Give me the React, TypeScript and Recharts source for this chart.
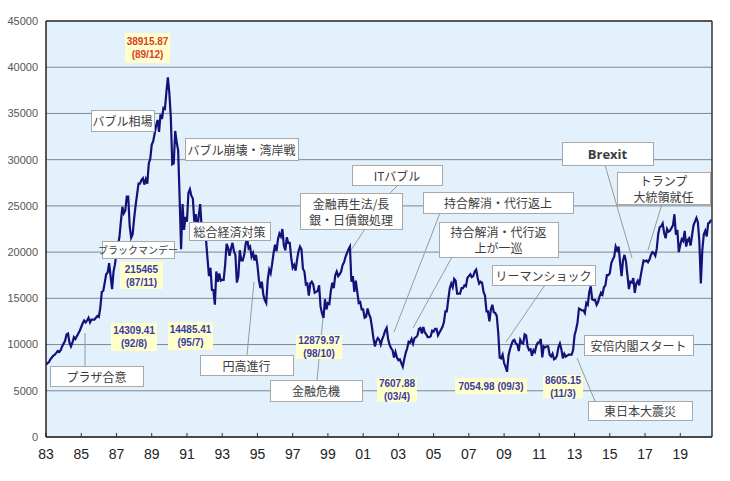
import React from 'react';
import { LineChart, Line, XAxis, YAxis, CartesianGrid, ReferenceLine } from 'recharts';

// monthly levels of the index (Jan..Dec per row)
const START_YEAR = 1983;
const idx1983_1989 = [
  7800, 8000, 8100, 8400, 8600, 8800, 8900, 9100, 9300, 9200, 9400, 9800,
  10100, 10400, 11100, 11200, 10200, 9800, 10200, 10800, 10600, 10900, 11200, 11500,
  11900, 12300, 12600, 12400, 12600, 12900, 12400, 12700, 12700, 12700, 12900, 13100,
  13000, 14000, 15700, 15800, 16700, 17600, 17800, 18800, 17400, 16000, 17900, 18700,
  20000, 20800, 21600, 23300, 24900, 24200, 24500, 26000, 26000, 22800, 21546, 21900,
  23600, 25000, 26200, 27400, 27400, 27800, 28000, 27300, 27900, 27400, 29600, 30100,
  31600, 32000, 32800, 33700, 34300, 33000, 34900, 34400, 35600, 35500, 37300, 38916,
];
const idx1990_1996 = [
  37200, 34600, 29500, 29600, 33100, 31900, 31000, 25900, 20300, 25200, 22400, 23800,
  23300, 26400, 26800, 26100, 25800, 23300, 24100, 22300, 23900, 25200, 22700, 22900,
  22000, 21300, 19300, 17400, 18300, 15900, 15900, 14309, 17900, 16800, 17700, 16900,
  17000, 17000, 18600, 20900, 20500, 19600, 20400, 21000, 20100, 19700, 16700, 17400,
  20200, 19100, 19100, 19700, 20900, 21500, 20400, 20600, 19500, 19900, 19100, 19700,
  18600, 17000, 16100, 16800, 15400, 14800, 14485, 17000, 18100, 17700, 18700, 19900,
  20800, 20100, 21400, 22000, 21700, 22500, 20700, 20200, 21600, 21000, 21000, 19400,
];
const idx1997_2003 = [
  18300, 18600, 18000, 19200, 20100, 20600, 20300, 18200, 17900, 16500, 16600, 15300,
  16600, 16800, 16500, 15600, 15700, 15800, 16400, 14100, 13400, 12880, 14900, 13800,
  14500, 14400, 15800, 16700, 16100, 17500, 17900, 17400, 17600, 17900, 18600, 18900,
  19500, 19900, 20300, 20600, 16800, 17400, 15700, 16900, 15700, 14500, 14600, 13800,
  13800, 12900, 13000, 13900, 13300, 12900, 11900, 10700, 9800, 10400, 10700, 10500,
  10000, 10600, 11000, 11500, 11800, 10600, 10000, 9600, 9400, 8600, 9200, 8600,
  8300, 8400, 8000, 7608, 8400, 9100, 9600, 10300, 10200, 10600, 10100, 10700,
];
const idx2004_2010 = [
  10800, 11000, 11700, 11800, 11200, 11900, 11300, 11100, 10800, 10800, 10900, 11500,
  11400, 11700, 11700, 11000, 11300, 11600, 11900, 12400, 13600, 13600, 14900, 16100,
  16600, 16200, 17100, 16900, 15500, 15500, 15500, 16100, 16100, 16400, 16300, 17200,
  17400, 17600, 17300, 17400, 17900, 18100, 17200, 16600, 16800, 16700, 15700, 15300,
  13600, 13600, 12500, 13800, 14300, 13500, 13400, 13100, 11300, 8600, 8500, 8900,
  8000, 7600, 7055, 8800, 9500, 10000, 10400, 10500, 10100, 10000, 9300, 10500,
  10200, 10100, 11100, 11000, 9800, 9400, 9500, 8800, 9400, 9200, 9900, 10200,
];
const idx2011_2020 = [
  10200, 10600, 8605, 9800, 9700, 9800, 9800, 8900, 8700, 9000, 8400, 8500,
  8800, 9700, 10100, 9500, 8500, 9000, 8700, 8800, 8900, 8900, 8900, 9400,
  11000, 11600, 12400, 13900, 13800, 13700, 13700, 13400, 14500, 14300, 15700, 16300,
  14900, 14800, 14800, 14300, 14600, 15200, 15600, 15400, 16200, 16400, 17500, 17500,
  17700, 18800, 19200, 19500, 20600, 20200, 20600, 18900, 17400, 19100, 19700, 19000,
  17500, 16000, 16800, 16700, 17200, 15600, 16600, 16900, 16400, 17400, 18300, 19100,
  19000, 19100, 18900, 19200, 19700, 20000, 19900, 19600, 20400, 22000, 22700, 22800,
  23100, 22100, 21500, 22500, 22200, 22300, 22600, 22900, 24100, 21900, 22400, 20000,
  20800, 21400, 21200, 22300, 20600, 21300, 21500, 20700, 21800, 22900, 23300, 23700,
  23200, 21100, 16600, 20200, 21900, 22300, 21700, 23100, 23200, 23500,
];

const yTicks = [0, 5000, 10000, 15000, 20000, 25000, 30000, 35000, 40000, 45000];
const xTicks = [1983, 1985, 1987, 1989, 1991, 1993, 1995, 1997, 1999, 2001, 2003, 2005, 2007, 2009, 2011, 2013, 2015, 2017, 2019];

// event notes (white boxes) and value notes (yellow) placed over the plot
const notes = [
  { x: 91, y: 110, w: 63, h: 21, lines: ['バブル相場'] },
  { x: 185, y: 138, w: 113, h: 22, lines: ['バブル崩壊・湾岸戦'] },
  { x: 102, y: 241, w: 72, h: 17, lines: ['ブラックマンデー'], size: 10 },
  { x: 189, y: 222, w: 81, h: 18, lines: ['総合経済対策'] },
  { x: 352, y: 165, w: 90, h: 20, lines: ['ITバブル'] },
  { x: 300, y: 193, w: 102, h: 36, lines: ['金融再生法/長', '銀・日債銀処理'] },
  { x: 423, y: 192, w: 150, h: 21, lines: ['持合解消・代行返上'] },
  { x: 439, y: 222, w: 119, h: 35, lines: ['持合解消・代行返', '上が一巡'] },
  { x: 562, y: 142, w: 91, h: 23, lines: ['Brexit'], bold: true },
  { x: 617, y: 172, w: 93, h: 32, lines: ['トランプ', '大統領就任'] },
  { x: 492, y: 265, w: 103, h: 20, lines: ['リーマンショック'] },
  { x: 200, y: 355, w: 93, h: 20, lines: ['円高進行'] },
  { x: 50, y: 366, w: 93, h: 20, lines: ['プラザ合意'] },
  { x: 270, y: 380, w: 92, h: 21, lines: ['金融危機'] },
  { x: 584, y: 335, w: 109, h: 20, lines: ['安倍内閣スタート'] },
  { x: 588, y: 401, w: 104, h: 19, lines: ['東日本大震災'] },
];
const valueNotes = [
  { x: 125, y: 33, w: 45, h: 30, lines: ['38915.87', '(89/12)'], red: true },
  { x: 120, y: 262, w: 43, h: 27, lines: ['215465', '(87/11)'] },
  { x: 111, y: 323, w: 46, h: 28, lines: ['14309.41', '(92/8)'] },
  { x: 168, y: 322, w: 45, h: 28, lines: ['14485.41', '(95/7)'] },
  { x: 296, y: 335, w: 46, h: 24, lines: ['12879.97', '(98/10)'] },
  { x: 377, y: 378, w: 40, h: 24, lines: ['7607.88', '(03/4)'] },
  { x: 455, y: 378, w: 72, h: 16, lines: ['7054.98 (09/3)'] },
  { x: 543, y: 375, w: 40, h: 23, lines: ['8605.15', '(11/3)'] },
];
const leaders = [
  [85, 366, 85, 333],
  [247, 355, 254, 282],
  [317, 380, 323, 318],
  [365, 229, 351, 250],
  [398, 185, 390, 193],
  [440, 213, 394, 332],
  [452, 257, 413, 328],
  [545, 285, 506, 342],
  [605, 165, 632, 258],
  [662, 204, 648, 250],
  [595, 401, 577, 358],
];

const data = [idx1983_1989, idx1990_1996, idx1997_2003, idx2004_2010, idx2011_2020]
  .flat()
  .map((v, i) => ({ t: START_YEAR + i / 12, v }));

const JP = '"Noto Sans CJK JP", "Noto Sans", sans-serif';

const Overlay = () => (
  <svg width={730} height={481} style={{ position: 'absolute', left: 0, top: 0, pointerEvents: 'none' }}>
    {leaders.map(([x1, y1, x2, y2], i) => (
      <line key={i} x1={x1} y1={y1} x2={x2} y2={y2} stroke="#9a9a9a" strokeWidth={1} />
    ))}
    {notes.map((n, i) => {
      const fs = n.size || 12;
      const lh = 16;
      const top = n.y + n.h / 2 - ((n.lines.length - 1) * lh) / 2;
      return (
        <g key={i}>
          <rect x={n.x + 0.5} y={n.y + 0.5} width={n.w} height={n.h} fill="#fff" stroke="#a8a8a8" />
          {n.lines.map((s, j) => (
            <text key={j} x={n.x + n.w / 2} y={top + j * lh} textAnchor="middle" dominantBaseline="central"
              fontSize={n.bold ? 13 : fs} fontWeight={n.bold ? 700 : 400}
              fontFamily={n.bold ? '"Open Sans", sans-serif' : JP} fill="#3c3c3c">{s}</text>
          ))}
        </g>
      );
    })}
    {valueNotes.map((n, i) => {
      const lh = 13;
      const top = n.y + n.h / 2 - ((n.lines.length - 1) * lh) / 2;
      return (
        <g key={i}>
          <rect x={n.x} y={n.y} width={n.w} height={n.h} fill="#ffffcc" />
          {n.lines.map((s, j) => (
            <text key={j} x={n.x + n.w / 2} y={top + j * lh} textAnchor="middle" dominantBaseline="central"
              fontSize={10} fontWeight={700} fontFamily='"Liberation Sans", Arial, sans-serif'
              fill={n.red ? '#d8402c' : '#3a3aa8'}>{s}</text>
          ))}
        </g>
      );
    })}
  </svg>
);

export default function App() {
  return (
    <div style={{ position: 'absolute', left: 0, top: 0, width: 730, height: 481, background: '#fff' }}>
      <LineChart width={730} height={481} data={data} margin={{ top: 21, right: 18, bottom: 0, left: 0 }}>
        <CartesianGrid vertical={false} fill="#e2f1fb" stroke="#7d8893" strokeWidth={1} />
        <XAxis
          dataKey="t"
          type="number"
          domain={[1983, 2020.8]}
          ticks={xTicks}
          allowDataOverflow
          height={44}
          tickFormatter={(y: number) => String(y % 100).padStart(2, '0')}
          tick={{ fontSize: 14, fill: '#222', fontFamily: '"Liberation Sans", Arial, sans-serif' }}
          tickSize={-4}
          tickMargin={16}
          axisLine={{ stroke: '#222', strokeWidth: 1.5 }}
          tickLine={{ stroke: '#333' }}
        />
        <YAxis
          width={46}
          domain={[0, 45000]}
          ticks={yTicks}
          tick={{ fontSize: 11, fill: '#555', fontFamily: '"Liberation Sans", Arial, sans-serif' }}
          tickLine={false}
          tickSize={6}
          tickMargin={2}
          axisLine={{ stroke: '#222', strokeWidth: 1.5 }}
        />
        <ReferenceLine y={45000} stroke="#333" strokeWidth={1.5} />
        <ReferenceLine x={2020.8} stroke="#333" strokeWidth={1.5} />
        <Line
          type="linear"
          dataKey="v"
          stroke="#121278"
          strokeWidth={2.2}
          dot={false}
          isAnimationActive={false}
        />
      </LineChart>
      <Overlay />
    </div>
  );
}
